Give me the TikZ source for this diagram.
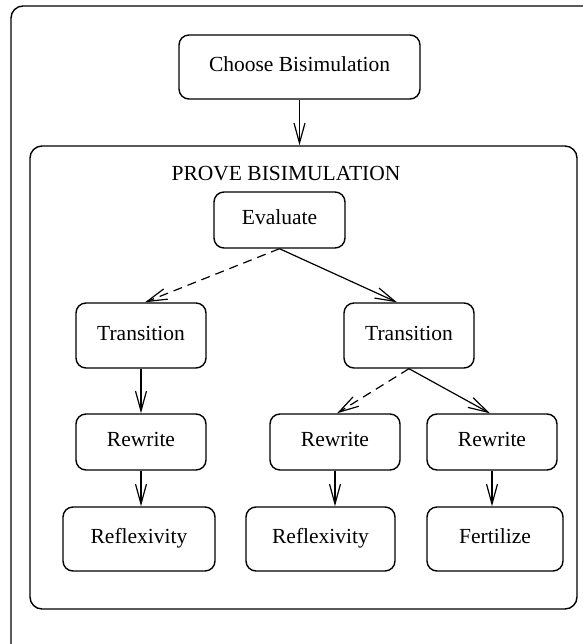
\documentclass[tikz,border=0pt]{standalone}
\usepackage{fontspec}
\setmainfont{Liberation Serif}
\usetikzlibrary{arrows.meta}
\begin{document}
\begin{tikzpicture}[x=0.5pt,y=-0.5pt,
  box/.style={draw, rounded corners=5pt, line width=0.7pt, inner sep=0pt,
    text height=0.7em, text depth=0.22em,
    font=\fontsize{10.75pt}{13pt}\selectfont},
  frame/.style={draw, rounded corners=6pt, line width=0.7pt, inner sep=0pt},
  arr/.style={line width=0.6pt, -{Straight Barb[length=10pt,width=5.5pt]}},
  darr/.style={arr, dash pattern=on 4.5pt off 3pt}]
\useasboundingbox (0,0) rectangle (583,644);
\node[frame, minimum width=296pt, minimum height=329pt] (outer) at (307,335) {};
\node[frame, minimum width=273.5pt, minimum height=231.5pt] (inner) at (303.5,377.5) {};
\node[font=\fontsize{10.75pt}{13pt}\selectfont, inner sep=0pt, text height=0.7em, text depth=0.22em] (title) at (286,176) {PROVE BISIMULATION};
\node[box, minimum width=120.5pt, minimum height=32pt] (choose) at (299.5,67) {Choose Bisimulation};
\node[box, minimum width=65.5pt, minimum height=28pt] (eval) at (279.5,220) {Evaluate};
\node[box, minimum width=65pt, minimum height=32.5pt] (transL) at (141,335.5) {Transition};
\node[box, minimum width=65pt, minimum height=32.5pt] (transR) at (409,335.5) {Transition};
\node[box, minimum width=65pt, minimum height=28pt] (rewL) at (141,442) {Rewrite};
\node[box, minimum width=65pt, minimum height=28pt] (rewM) at (335,442) {Rewrite};
\node[box, minimum width=65pt, minimum height=28pt] (rewR) at (492,442) {Rewrite};
\node[box, minimum width=76pt, minimum height=32pt] (reflL) at (139,539) {Reflexivity};
\node[box, minimum width=74.5pt, minimum height=32pt] (reflM) at (320.5,539) {Reflexivity};
\node[box, minimum width=68pt, minimum height=32pt] (fert) at (495,539) {Fertilize};
\draw[arr] (choose.south) -- (choose.south |- inner.north);
\draw[darr] (eval.south) -- ([xshift=2pt]transL.north);
\draw[arr] (eval.south) -- ([xshift=-6pt]transR.north);
\draw[arr] (transL.south) -- (rewL.north);
\draw[darr] (transR.south) -- ([xshift=1pt]rewM.north);
\draw[arr] (transR.south) -- ([xshift=-1pt]rewR.north);
\draw[arr] (rewL.south) -- (rewL.south |- reflL.north);
\draw[arr] (rewM.south) -- (rewM.south |- reflM.north);
\draw[arr] (rewR.south) -- (rewR.south |- fert.north);
\end{tikzpicture}
\end{document}
